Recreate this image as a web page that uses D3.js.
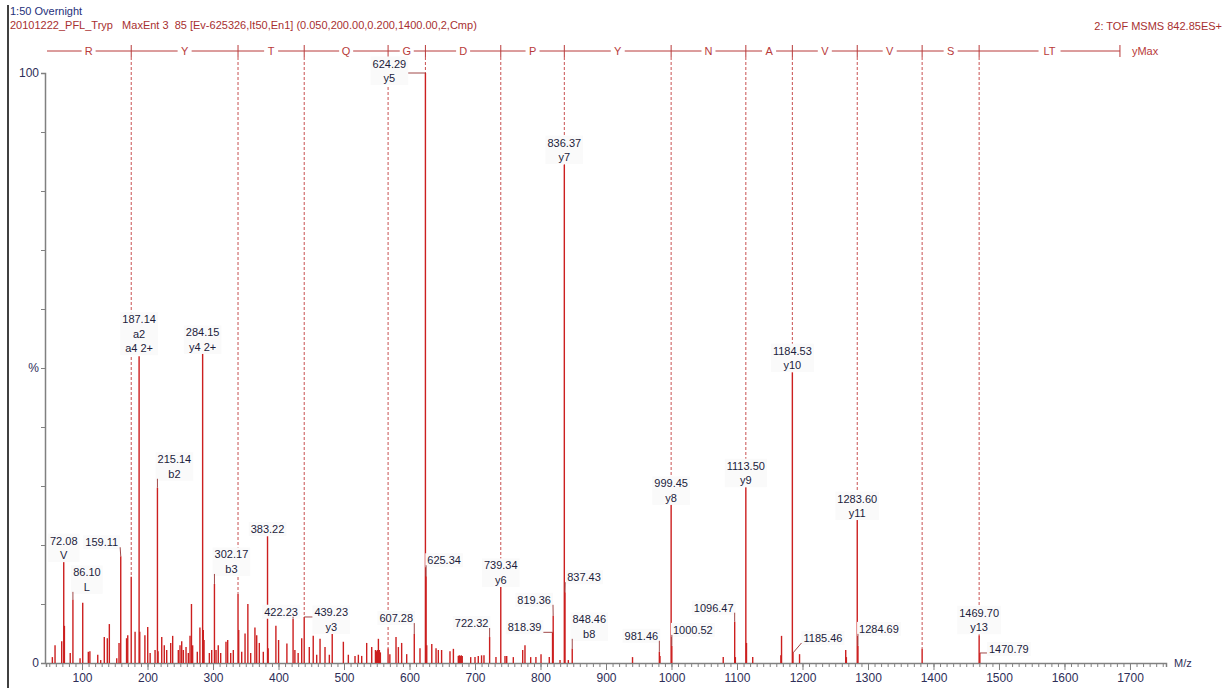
<!DOCTYPE html>
<html>
<head>
<meta charset="utf-8">
<script src="https://cdn.jsdelivr.net/npm/d3@7"></script>
<style>
  body { margin: 0; background: #ffffff; }
  text { font-family: "Liberation Sans", Arial, sans-serif; }
</style>
</head>
<body>
<div id="chart"></div>
<script>
let width = 1225;
let height = 688;

// header texts
let titleLine1 = "1:50 Overnight";
let titleLine2 = "20101222_PFL_Tryp   MaxEnt 3  85 [Ev-625326,It50,En1] (0.050,200.00,0.200,1400.00,2,Cmp)";
let titleRight = "2: TOF MSMS 842.85ES+";

// sequence ladder (y ions)
let seqResidues = ["R", "Y", "T", "Q", "G", "D", "P", "Y", "N", "A", "V", "V", "S", "LT"];
let seqBreaks = [175.12, 338.18, 439.23, 567.29, 624.29, 739.34, 836.37, 999.45, 1113.50, 1184.53, 1283.60, 1382.67, 1469.70];
let seqEnd = 1684.69;

// x ticks / y ticks
let xMajorTicks = [100, 200, 300, 400, 500, 600, 700, 800, 900, 1000, 1100, 1200, 1300, 1400, 1500, 1600, 1700];
let yTicks = [0, 10, 20, 30, 40, 50, 60, 70, 80, 90, 100];
let yTickLabels = { 0: "0", 50: "%", 100: "100" };

// peaks [m/z, relative intensity %]
let peaks = [
  [54.7, 1.0], [58.8, 3.0], [69.0, 3.7], [72.08, 17.6], [73.1, 6.3], [82.0, 1.7], [86.10, 10.7], [97.0, 0.8],
  [101.07, 10.2], [109.6, 1.9], [112.0, 2.0], [124.0, 1.4], [128.5, 0.5], [134.0, 4.4], [138.6, 4.2], [141.7, 6.6],
  [153.0, 0.8], [156.5, 3.4], [159.11, 18.1], [168.0, 4.2], [169.8, 4.7], [175.12, 14.6], [181.0, 5.3], [187.14, 52.0],
  [188.14, 5.3], [196.0, 4.7], [200.3, 6.1], [204.0, 1.7], [211.5, 2.2], [215.14, 29.7], [216.1, 2.0], [221.7, 4.4],
  [225.6, 3.0], [229.3, 2.2], [235.4, 3.4], [238.4, 4.6], [247.0, 2.2], [249.6, 3.0], [252.2, 3.7], [254.7, 2.2],
  [258.8, 2.7], [262.3, 1.7], [264.9, 4.6], [267.1, 10.0], [268.9, 3.0], [276.0, 1.9], [280.0, 6.0], [284.15, 52.4],
  [285.15, 5.6], [286.3, 3.9], [294.4, 1.7], [298.0, 2.2], [302.17, 13.4], [304.6, 2.2], [308.0, 3.0], [311.7, 1.7],
  [319.8, 3.6], [322.4, 3.9], [327.0, 1.7], [331.0, 2.2], [338.18, 11.7], [339.2, 5.6], [343.8, 1.9], [348.9, 5.0],
  [353.2, 10.0], [357.5, 1.7], [364.0, 6.0], [366.7, 4.7], [370.7, 3.4], [376.8, 1.9], [383.22, 21.5], [384.2, 2.5],
  [396.0, 6.3], [400.1, 3.9], [412.8, 3.3], [422.23, 7.5], [425.0, 2.2], [430.0, 1.7], [435.4, 4.2], [439.23, 7.8],
  [447.0, 2.7], [453.0, 4.6], [458.3, 1.4], [463.4, 4.1], [471.0, 2.7], [477.6, 1.4], [482.0, 4.9], [499.0, 3.6],
  [506.6, 1.4], [516.8, 1.2], [521.9, 1.4], [527.0, 1.2], [534.6, 3.4], [542.3, 2.7], [548.0, 2.2], [549.5, 2.0],
  [551.0, 2.2], [552.5, 4.1], [554.0, 2.2], [555.5, 1.8], [567.29, 2.5], [570.0, 1.5], [579.4, 4.4], [583.0, 2.7],
  [588.0, 3.4], [595.7, 1.5], [607.28, 4.9], [616.0, 2.5], [624.29, 100], [625.34, 14.7], [626.3, 3.0], [634.0, 3.2],
  [640.5, 2.5], [644.0, 2.2], [649.0, 2.2], [661.8, 2.0], [667.0, 2.4], [674.5, 1.2], [676.0, 1.3], [677.5, 1.2],
  [679.0, 1.3], [680.5, 1.2], [693.4, 1.0], [700.0, 1.0], [705.0, 1.2], [710.0, 1.3], [713.7, 1.3], [722.32, 4.4],
  [732.0, 1.0], [739.34, 12.9], [745.8, 1.2], [748.4, 1.2], [758.5, 1.0], [772.8, 2.2], [776.3, 3.0], [785.0, 1.0],
  [793.0, 1.0], [800.8, 1.5], [813.4, 1.0], [818.39, 5.2], [819.36, 8.0], [829.8, 0.5], [836.37, 84.4], [837.43, 12.0],
  [842.5, 0.5], [848.46, 2.4], [940.5, 1.0], [981.46, 1.9], [982.4, 1.2], [999.45, 26.8], [1000.52, 2.9], [1079.0, 1.0],
  [1096.47, 7.0], [1097.5, 1.0], [1113.50, 29.8], [1114.5, 3.4], [1124.0, 1.0], [1167.0, 1.3], [1168.0, 4.6],
  [1184.53, 49.3], [1185.46, 1.7], [1195.5, 1.5], [1266.0, 2.2], [1267.0, 1.0], [1283.60, 24.4], [1284.69, 2.9],
  [1382.67, 2.4], [1469.70, 4.7], [1470.79, 1.7]
];

// peak annotations
let labelMz = [72.08, 86.10, 159.11, 187.14, 215.14, 284.15, 302.17, 383.22, 422.23, 439.23, 607.28, 624.29, 625.34,
  722.32, 739.34, 818.39, 819.36, 836.37, 837.43, 848.46, 981.46, 999.45, 1000.52, 1096.47, 1113.50, 1184.53,
  1185.46, 1283.60, 1284.69, 1469.70, 1470.79];
let labelLines = [["72.08", "V"], ["86.10", "L"], ["159.11"], ["187.14", "a2", "a4 2+"], ["215.14", "b2"], ["284.15", "y4 2+"],
  ["302.17", "b3"], ["383.22"], ["422.23"], ["439.23", "y3"], ["607.28"], ["624.29", "y5"], ["625.34"],
  ["722.32"], ["739.34", "y6"], ["818.39"], ["819.36"], ["836.37", "y7"], ["837.43"], ["848.46", "b8"], ["981.46"],
  ["999.45", "y8"], ["1000.52"], ["1096.47"], ["1113.50", "y9"], ["1184.53", "y10"], ["1185.46"], ["1283.60", "y11"],
  ["1284.69"], ["1469.70", "y13"], ["1470.79"]];

// label placement relative to the peak tip: [dx, gap above tip]
let labelShift = {
  72.08: [0, 4], 86.10: [14, 13], 159.11: [-19, 14], 187.14: [0, 8], 215.14: [17, 14], 284.15: [0, 7],
  302.17: [17, 15], 383.22: [0, 7], 422.23: [-12, 7], 439.23: [27, -10], 607.28: [-18, 16], 624.29: [-36, -5],
  625.34: [18, 16], 722.32: [-18, 14], 739.34: [0, 7], 818.39: [-28, 5], 819.36: [-19, 16], 836.37: [0, 8],
  837.43: [19, 15], 848.46: [17, 15], 981.46: [-18, 16], 999.45: [0, 7], 1000.52: [21, 16], 1096.47: [-21, 14],
  1113.50: [0, 7], 1184.53: [0, 7], 1185.46: [30, 15], 1283.60: [0, 6], 1284.69: [21, 17], 1469.70: [0, 8],
  1470.79: [29, 4]
};

let peakColor = "#cc1f1f";
let seqColor = "#b83a3a";
let labelColor = "#1c1c3c";
let axisColor = "#808080";

let svg = d3.select("#chart")
  .append("svg")
  .attr("width", width)
  .attr("height", height)
  .style("background-color", "#ffffff");

let xscale = d3.scaleLinear().domain([45, 1755]).range([46, 1166]);
let yscale = d3.scaleLinear().domain([0, 100]).range([663, 73]);

// left frame line
svg.append("line")
  .attr("x1", 8).attr("x2", 8)
  .attr("y1", 5).attr("y2", height)
  .attr("stroke", "#000000")
  .attr("stroke-width", 1.5);

// header
svg.append("text")
  .attr("x", 10).attr("y", 15)
  .attr("font-size", 11)
  .attr("fill", "#25307a")
  .text(titleLine1);
svg.append("text")
  .attr("x", 10).attr("y", 29)
  .attr("font-size", 11)
  .attr("fill", "#a83030")
  .style("white-space", "pre")
  .text(titleLine2);
svg.append("text")
  .attr("x", 1222).attr("y", 30)
  .attr("text-anchor", "end")
  .attr("font-size", 11)
  .attr("fill", "#a83030")
  .text(titleRight);

drawAxes(svg);
drawSequence(svg);

// peaks
svg.append("g")
  .attr("id", "peaks")
  .selectAll("line")
  .data(peaks)
  .enter()
  .append("line")
  .attr("x1", d => xscale(d[0]))
  .attr("x2", d => xscale(d[0]))
  .attr("y1", yscale(0))
  .attr("y2", d => yscale(d[1]))
  .attr("stroke", peakColor)
  .attr("stroke-width", 1.4);

drawLabels(svg);

function peakAt(mz) {
  let best = null;
  peaks.forEach(p => {
    if (Math.abs(p[0] - mz) < 1.2 && (!best || Math.abs(p[0] - mz) < Math.abs(best[0] - mz))) best = p;
  });
  return best;
}

function drawAxes(svg) {
  let minorTicks = d3.range(50, 1760, 10);

  svg.append("g")
    .attr("transform", `translate(0, ${yscale(0)})`)
    .call(d3.axisBottom(xscale).tickValues(minorTicks).tickSize(4).tickFormat(""))
    .call(g => g.select(".domain").attr("stroke", axisColor).attr("stroke-width", 1.5))
    .call(g => g.selectAll(".tick line").attr("stroke", axisColor));

  svg.append("g")
    .attr("transform", `translate(0, ${yscale(0)})`)
    .call(d3.axisBottom(xscale).tickValues(xMajorTicks).tickSize(7).tickPadding(3).tickFormat(d3.format("d")))
    .call(g => g.select(".domain").remove())
    .call(g => g.selectAll(".tick line").attr("stroke", axisColor))
    .call(g => g.selectAll(".tick text")
      .attr("fill", "#2e2e58")
      .attr("font-size", 12)
      .attr("font-family", "Liberation Sans, Arial, sans-serif"));

  svg.append("g")
    .attr("transform", `translate(${xscale(45) - 1}, 0)`)
    .call(d3.axisLeft(yscale).tickValues(yTicks).tickSize(4).tickPadding(2)
      .tickFormat(d => yTickLabels[d] || ""))
    .call(g => g.select(".domain").attr("stroke", axisColor).attr("stroke-width", 1.5))
    .call(g => g.selectAll(".tick line").attr("stroke", axisColor))
    .call(g => g.selectAll(".tick text")
      .attr("fill", "#2e2e58")
      .attr("font-size", 12)
      .attr("font-family", "Liberation Sans, Arial, sans-serif"));

  svg.append("text")
    .attr("x", 1174).attr("y", yscale(0) + 4)
    .attr("font-size", 11)
    .attr("fill", "#2e2e58")
    .text("M/z");
}

function drawSequence(svg) {
  let ybar = 51;
  let bounds = [45].concat(seqBreaks).concat([seqEnd]);
  let g = svg.append("g").attr("id", "sequence");

  g.append("line")
    .attr("x1", xscale(45) + 1).attr("x2", xscale(seqEnd))
    .attr("y1", ybar).attr("y2", ybar)
    .attr("stroke", seqColor).attr("stroke-width", 1);

  // dashed drop lines down to the matching peak
  g.selectAll("line.drop")
    .data(seqBreaks)
    .enter()
    .append("line")
    .attr("class", "drop")
    .attr("x1", d => xscale(d)).attr("x2", d => xscale(d))
    .attr("y1", ybar + 6)
    .attr("y2", d => {
      let p = peakAt(d);
      return yscale(p ? p[1] : 0);
    })
    .attr("stroke", "#c85050")
    .attr("stroke-width", 1)
    .attr("stroke-dasharray", "3,2");

  g.selectAll("line.tick")
    .data(seqBreaks.concat([seqEnd]))
    .enter()
    .append("line")
    .attr("class", "tick")
    .attr("x1", d => xscale(d)).attr("x2", d => xscale(d))
    .attr("y1", ybar - 6).attr("y2", ybar + 6)
    .attr("stroke", seqColor).attr("stroke-width", 1);

  let res = g.selectAll("g.res")
    .data(seqResidues)
    .enter()
    .append("g")
    .attr("class", "res")
    .attr("transform", (d, i) => `translate(${(xscale(bounds[i]) + xscale(bounds[i + 1])) / 2}, ${ybar})`);

  res.append("rect")
    .attr("x", d => -d.length * 4 - 3)
    .attr("y", -6)
    .attr("width", d => d.length * 8 + 6)
    .attr("height", 12)
    .attr("fill", "#ffffff");

  res.append("text")
    .attr("text-anchor", "middle")
    .attr("dominant-baseline", "central")
    .attr("font-size", 11)
    .attr("fill", seqColor)
    .text(d => d);

  g.append("text")
    .attr("x", xscale(seqEnd) + 12).attr("y", ybar)
    .attr("dominant-baseline", "central")
    .attr("font-size", 11)
    .attr("fill", seqColor)
    .text("yMax");
}

function drawLabels(svg) {
  let lineStep = 14.5;
  let g = svg.append("g").attr("id", "labels");

  labelMz.forEach((mz, i) => {
    let p = peakAt(mz);
    let tipX = xscale(mz);
    let tipY = yscale(p ? p[1] : 0);
    let shift = labelShift[mz] || [0, 7];
    let lines = labelLines[i];
    let cx = tipX + shift[0];
    let lastY = tipY - shift[1];
    let firstY = lastY - (lines.length - 1) * lineStep;

    let lg = g.append("g");
    let texts = lines.map((t, k) => lg.append("text")
      .attr("x", cx)
      .attr("y", firstY + k * lineStep)
      .attr("text-anchor", "middle")
      .attr("dominant-baseline", "central")
      .attr("font-size", 11)
      .attr("fill", labelColor)
      .style("white-space", "pre")
      .text(t));

    let w = d3.max(texts, t => t.node().getComputedTextLength());
    let box = { x0: cx - w / 2 - 2, x1: cx + w / 2 + 2, y0: firstY - 7, y1: lastY + 7 };

    lg.insert("rect", "text")
      .attr("x", box.x0).attr("y", box.y0)
      .attr("width", box.x1 - box.x0).attr("height", box.y1 - box.y0)
      .attr("fill", "#fafafa");

    if (shift[0] !== 0) {
      let nx = Math.max(box.x0, Math.min(tipX, box.x1));
      let ny = Math.max(box.y0 + 4, Math.min(tipY, box.y1 - 2));
      g.append("line")
        .attr("x1", tipX).attr("y1", tipY)
        .attr("x2", nx).attr("y2", ny)
        .attr("stroke", "#a04848")
        .attr("stroke-width", 1);
    }
  });
}
</script>
</body>
</html>
